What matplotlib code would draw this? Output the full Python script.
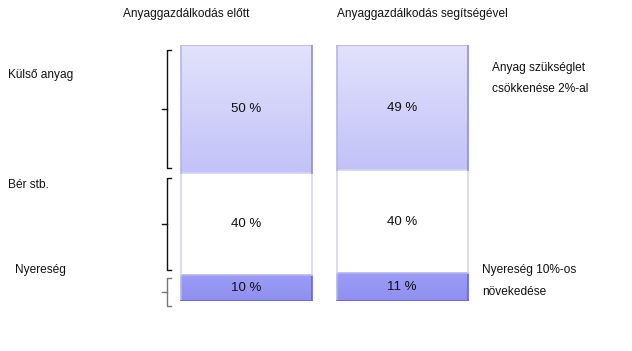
import numpy as np
import matplotlib
matplotlib.use("Agg")
import matplotlib.pyplot as plt
from matplotlib.patches import Rectangle
from matplotlib.colors import LinearSegmentedColormap

plt.rcParams['font.family'] = ['Liberation Sans', 'DejaVu Sans']

# ---- data ----
scenarios = ["Anyaggazdálkodás előtt", "Anyaggazdálkodás segítségével"]
categories = ["Nyereség", "Bér stb.", "Külső anyag"]   # bottom -> top
before = [10, 40, 50]
after = [11, 40, 49]
value_labels_before = ["10 %", "40 %", "50 %"]
value_labels_after = ["11 %", "40 %", "49 %"]
notes = ["Anyag szükséglet\ncsökkenése 2%-al", "Nyereség 10%-os\nnövekedése"]

W, H = 632, 351
fig = plt.figure(figsize=(W / 100, H / 100), dpi=100)
y0_px, y1_px = 301, 45
ax = fig.add_axes([0, (H - y0_px) / H, 1, (y0_px - y1_px) / H])
ax.set_xlim(0, W)
ax.set_ylim(0, 100)
ax.axis('off')

centers = [246.5, 402]
bw = 131
FS = 8.6

fills = [
    ("#9c9cf8", "#8f8ff0", "#6464d8"),   # bottom
    ("#ffffff", "#ffffff", "#d6d6f2"),   # middle
    ("#e2e2fc", "#c2c2f8", "#8c8ce0"),   # top
]

for xc, vals, labs in zip(centers, [before, after], [value_labels_before, value_labels_after]):
    bottom = 0
    for i, (v, lab) in enumerate(zip(vals, labs)):
        c_top, c_bot, ec = fills[i]
        rect = Rectangle((xc - bw / 2, bottom), bw, v, facecolor='none',
                         edgecolor='none')
        ax.add_patch(rect)
        cmap = LinearSegmentedColormap.from_list('g', [c_bot, c_top])
        grad = np.linspace(0, 1, 64).reshape(-1, 1)
        im = ax.imshow(grad, cmap=cmap, aspect='auto', origin='lower',
                       extent=(xc - bw / 2, xc + bw / 2, bottom, bottom + v),
                       zorder=1)
        im.set_clip_path(rect)
        edge_light = "#b4b4ec" if i != 1 else "#d4d4f4"
        ax.plot([xc - bw / 2, xc - bw / 2], [bottom, bottom + v], color=edge_light, lw=1.2, zorder=3)
        ax.plot([xc - bw / 2, xc + bw / 2], [bottom + v, bottom + v], color=edge_light, lw=1.2, zorder=3)
        ax.plot([xc + bw / 2, xc + bw / 2], [bottom, bottom + v], color=ec, lw=1.2, zorder=3)
        if i == 0:
            ax.plot([xc - bw / 2, xc + bw / 2], [bottom, bottom], color=ec, lw=1.2, zorder=3)
        ax.text(xc, bottom + v / 2, lab, ha='center', va='center', fontsize=9.5,
                color='#111111', zorder=4)
        bottom += v

ax.set_xlim(0, W)
ax.set_ylim(0, 100)

# titles
for px, t in zip([123, 337], scenarios):
    fig.text(px / W, 1 - 14 / H, t, ha='left', va='center', fontsize=FS, color='#111111')

# braces (based on left bar segments)
bx = 167
brace_colors = ["#777777", "#111111", "#111111"]
bottom = 0
for i, v in enumerate(before):
    lo, hi = bottom + 2, bottom + v - 2
    if i == 0:
        lo, hi = bottom - 2, bottom + v - 1
    c = brace_colors[i]
    ax.plot([bx + 4, bx, bx, bx + 4], [lo, lo, hi, hi], color=c, lw=1.0, clip_on=False)
    ax.plot([bx - 5, bx], [(lo + hi) / 2] * 2, color=c, lw=1.0, clip_on=False)
    bottom += v

# category labels
label_pos = [(15, 270), (8, 185), (8, 75)]
for (px, py), cat in zip(label_pos, categories):
    fig.text(px / W, 1 - py / H, cat, ha='left', va='center', fontsize=FS, color='#111111')

# notes
fig.text(492 / W, 1 - 78 / H, notes[0], ha='left', va='center', fontsize=FS,
         color='#111111', linespacing=2.0)
fig.text(482 / W, 1 - 281 / H, notes[1], ha='left', va='center', fontsize=FS,
         color='#111111', linespacing=2.2)

fig.savefig("out.png", dpi=100, facecolor='white')
